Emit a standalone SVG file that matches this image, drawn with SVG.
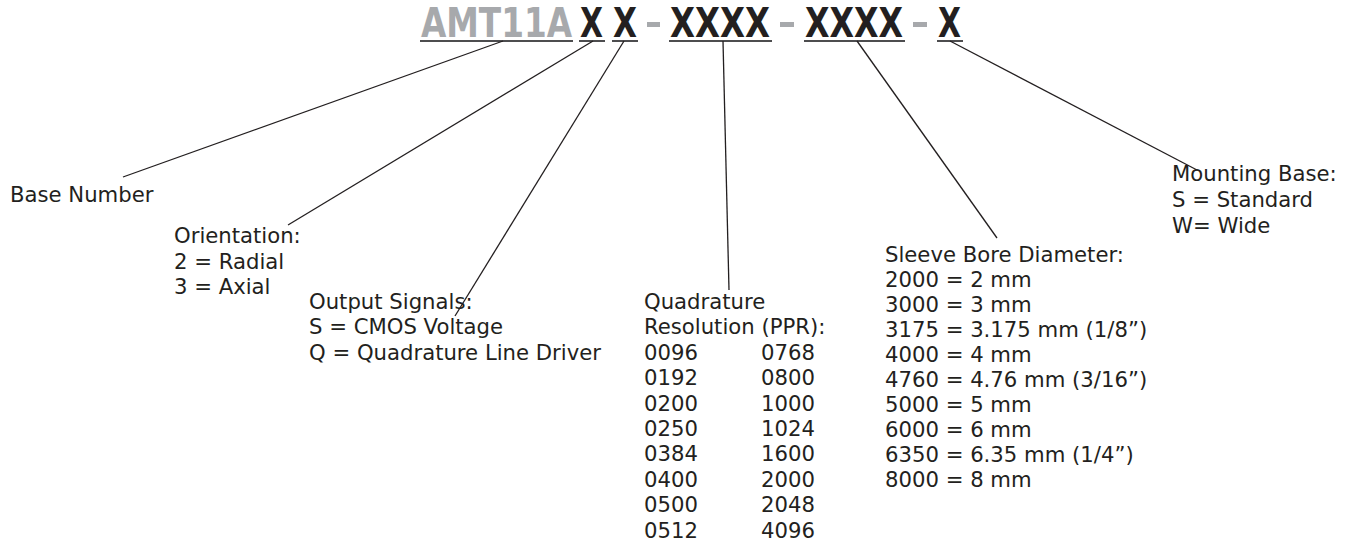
<svg xmlns="http://www.w3.org/2000/svg" width="1351" height="543" viewBox="0 0 1351 543">
<style>
.t{font-family:"DejaVu Sans","Verdana",sans-serif;font-size:21.2px;fill:#231f20}
.h{font-family:"DejaVu Sans Condensed","DejaVu Sans","Liberation Sans",sans-serif;font-stretch:condensed;font-weight:bold;font-size:40px}
.g{fill:#a7a9ac}
.k{fill:#231f20}
.u{stroke:#4d4d4f;stroke-width:2.2;fill:none}
.c{stroke:#231f20;stroke-width:1.3;fill:none}
</style>
<rect width="1351" height="543" fill="#fff"/>
<g id="title">
<text class="h g" x="421" y="37" textLength="151" lengthAdjust="spacingAndGlyphs">AMT11A</text>
<text class="h k" x="580" y="37" textLength="23" lengthAdjust="spacingAndGlyphs">X</text>
<text class="h k" x="613" y="37" textLength="24" lengthAdjust="spacingAndGlyphs">X</text>
<rect class="g" x="647" y="22" width="13" height="5"/>
<text class="h k" x="670" y="37" textLength="100" lengthAdjust="spacingAndGlyphs">XXXX</text>
<rect class="g" x="780" y="22" width="14" height="5"/>
<text class="h k" x="805" y="37" textLength="98" lengthAdjust="spacingAndGlyphs">XXXX</text>
<rect class="g" x="913" y="22" width="14" height="5"/>
<text class="h k" x="938" y="37" textLength="23" lengthAdjust="spacingAndGlyphs">X</text>
<path class="u" d="M420 41H573M579 41H605M612 41H638M669 41H772M804 41H905M937 41H963"/>
</g>
<g id="connectors">
<line class="c" x1="503" y1="41" x2="123" y2="177"/>
<line class="c" x1="593" y1="41" x2="288" y2="225"/>
<line class="c" x1="624" y1="41" x2="455" y2="316"/>
<line class="c" x1="723" y1="41" x2="729" y2="290"/>
<line class="c" x1="857" y1="41" x2="997" y2="238"/>
<line class="c" x1="950" y1="41" x2="1197" y2="170"/>
</g>
<g id="base-number">
<text class="t" x="10" y="202">Base Number</text>
</g>
<g id="orientation">
<text class="t" x="174" y="243">Orientation:</text>
<text class="t" x="174" y="268.5">2 = Radial</text>
<text class="t" x="174" y="294">3 = Axial</text>
</g>
<g id="output-signals">
<text class="t" x="309" y="308.5">Output Signals:</text>
<text class="t" x="309" y="334">S = CMOS Voltage</text>
<text class="t" x="309" y="359.5">Q = Quadrature Line Driver</text>
</g>
<g id="resolution">
<text class="t" x="644" y="309">Quadrature</text>
<text class="t" x="644" y="334.4">Resolution (PPR):</text>
<text class="t" x="644" y="359.8">0096</text><text class="t" x="761" y="359.8">0768</text>
<text class="t" x="644" y="385.2">0192</text><text class="t" x="761" y="385.2">0800</text>
<text class="t" x="644" y="410.6">0200</text><text class="t" x="761" y="410.6">1000</text>
<text class="t" x="644" y="436">0250</text><text class="t" x="761" y="436">1024</text>
<text class="t" x="644" y="461.4">0384</text><text class="t" x="761" y="461.4">1600</text>
<text class="t" x="644" y="486.8">0400</text><text class="t" x="761" y="486.8">2000</text>
<text class="t" x="644" y="512.2">0500</text><text class="t" x="761" y="512.2">2048</text>
<text class="t" x="644" y="537.6">0512</text><text class="t" x="761" y="537.6">4096</text>
</g>
<g id="sleeve-bore">
<text class="t" x="885" y="261.5">Sleeve Bore Diameter:</text>
<text class="t" x="885" y="286.5">2000 = 2 mm</text>
<text class="t" x="885" y="311.5">3000 = 3 mm</text>
<text class="t" x="885" y="336.5">3175 = 3.175 mm (1/8”)</text>
<text class="t" x="885" y="361.5">4000 = 4 mm</text>
<text class="t" x="885" y="386.5">4760 = 4.76 mm (3/16”)</text>
<text class="t" x="885" y="411.5">5000 = 5 mm</text>
<text class="t" x="885" y="436.5">6000 = 6 mm</text>
<text class="t" x="885" y="461.5">6350 = 6.35 mm (1/4”)</text>
<text class="t" x="885" y="486.5">8000 = 8 mm</text>
</g>
<g id="mounting-base">
<text class="t" x="1172" y="181">Mounting Base:</text>
<text class="t" x="1172" y="207">S = Standard</text>
<text class="t" x="1172" y="233">W= Wide</text>
</g>
</svg>
